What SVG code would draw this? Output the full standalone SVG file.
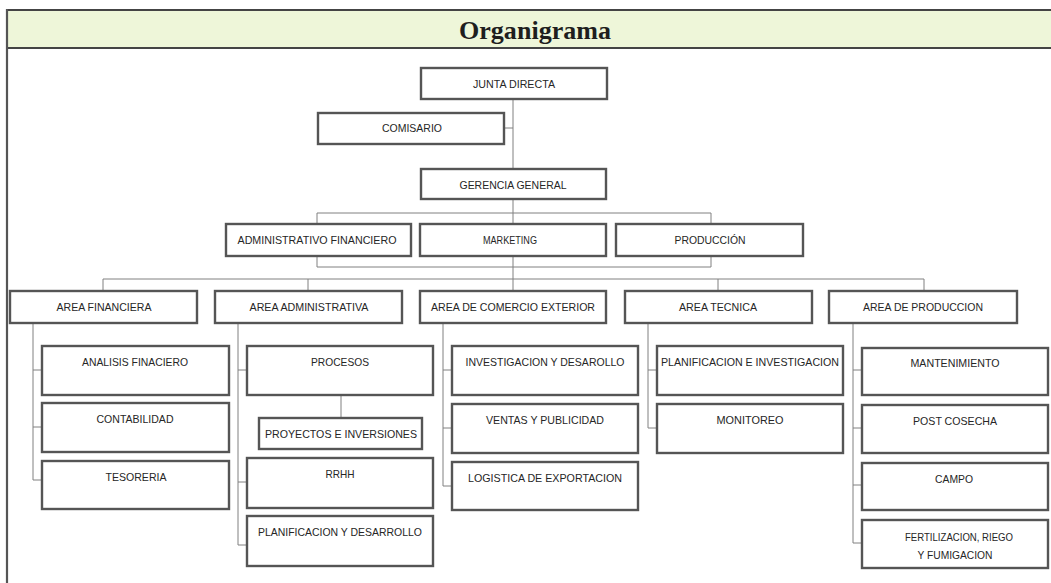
<svg xmlns="http://www.w3.org/2000/svg" width="1051" height="583" viewBox="0 0 1051 583">
<style>
.box{fill:#fff;stroke:#555;stroke-width:2.4}
.t{font-family:"Liberation Sans",Arial,sans-serif;font-size:11.5px;fill:#262626;text-anchor:middle}
.c{fill:none;stroke:#808080;stroke-width:1}
</style>
<rect x="0" y="0" width="1051" height="583" fill="#fff"/>
<g id="frame">
<rect x="7" y="10" width="1050" height="38" fill="#eef6d9"/>
<line x1="7" y1="10" x2="1051" y2="10" stroke="#444" stroke-width="2.2"/>
<line x1="7" y1="48" x2="1051" y2="48" stroke="#444" stroke-width="2.2"/>
<line x1="7" y1="9" x2="7" y2="583" stroke="#555" stroke-width="2.2"/>
<text x="535" y="39" font-family="'Liberation Serif',serif" font-weight="bold" font-size="26" fill="#1e1e1e" text-anchor="middle" textLength="152" lengthAdjust="spacingAndGlyphs">Organigrama</text>
</g>
<g id="connectors">
<path class="c" d="M513 99V169M504 128H513M513 199V267M317 224V213H711V224M317 256V267H711V256M513 267V291M103 291V279H924V291M308 279V291M718 279V291"/>
<path class="c" d="M33 323V480H42M33 370H42M33 427H42"/>
<path class="c" d="M238 323V545H247M238 370H247M238 482H247M341 395V418"/>
<path class="c" d="M443 323V486H452M443 370H452M443 428H452"/>
<path class="c" d="M648 323V428H657M648 370H657"/>
<path class="c" d="M853 323V543H862M853 370H862M853 428H862M853 485H862"/>
</g>
<g id="junta"><rect class="box" x="421" y="68" width="186" height="31"/><text class="t" x="514" y="88" textLength="82" lengthAdjust="spacingAndGlyphs">JUNTA DIRECTA</text></g>
<g id="comisario"><rect class="box" x="318" y="113" width="186" height="31"/><text class="t" x="412" y="132" textLength="60" lengthAdjust="spacingAndGlyphs">COMISARIO</text></g>
<g id="gerencia"><rect class="box" x="421" y="169" width="185" height="30"/><text class="t" x="513" y="189" textLength="107" lengthAdjust="spacingAndGlyphs">GERENCIA GENERAL</text></g>
<g id="adm-fin"><rect class="box" x="226" y="224" width="185" height="32"/><text class="t" x="317" y="244" textLength="159" lengthAdjust="spacingAndGlyphs">ADMINISTRATIVO FINANCIERO</text></g>
<g id="marketing"><rect class="box" x="420" y="224" width="186" height="32"/><text class="t" x="510" y="244" textLength="54" lengthAdjust="spacingAndGlyphs">MARKETING</text></g>
<g id="produccion"><rect class="box" x="616" y="224" width="187" height="32"/><text class="t" x="710" y="244" textLength="71" lengthAdjust="spacingAndGlyphs">PRODUCCIÓN</text></g>
<g id="area-fin"><rect class="box" x="10" y="291" width="187" height="32"/><text class="t" x="104" y="311" textLength="95" lengthAdjust="spacingAndGlyphs">AREA FINANCIERA</text></g>
<g id="area-adm"><rect class="box" x="215" y="291" width="187" height="32"/><text class="t" x="309" y="311" textLength="119" lengthAdjust="spacingAndGlyphs">AREA ADMINISTRATIVA</text></g>
<g id="area-com"><rect class="box" x="420" y="291" width="186" height="32"/><text class="t" x="513" y="311" textLength="164" lengthAdjust="spacingAndGlyphs">AREA DE COMERCIO EXTERIOR</text></g>
<g id="area-tec"><rect class="box" x="625" y="291" width="187" height="32"/><text class="t" x="718" y="311" textLength="78" lengthAdjust="spacingAndGlyphs">AREA TECNICA</text></g>
<g id="area-prod"><rect class="box" x="829" y="291" width="188" height="32"/><text class="t" x="923" y="311" textLength="120" lengthAdjust="spacingAndGlyphs">AREA DE PRODUCCION</text></g>
<g id="analisis"><rect class="box" x="42" y="346" width="187" height="49"/><text class="t" x="135" y="366" textLength="106" lengthAdjust="spacingAndGlyphs">ANALISIS FINACIERO</text></g>
<g id="contabilidad"><rect class="box" x="42" y="403" width="187" height="49"/><text class="t" x="135" y="423" textLength="77" lengthAdjust="spacingAndGlyphs">CONTABILIDAD</text></g>
<g id="tesoreria"><rect class="box" x="42" y="461" width="187" height="48"/><text class="t" x="136" y="481" textLength="61" lengthAdjust="spacingAndGlyphs">TESORERIA</text></g>
<g id="procesos"><rect class="box" x="247" y="346" width="186" height="49"/><text class="t" x="340" y="366" textLength="58" lengthAdjust="spacingAndGlyphs">PROCESOS</text></g>
<g id="proyectos"><rect class="box" x="259" y="418" width="163" height="31"/><text class="t" x="341" y="438" textLength="152" lengthAdjust="spacingAndGlyphs">PROYECTOS E INVERSIONES</text></g>
<g id="rrhh"><rect class="box" x="247" y="458" width="186" height="50"/><text class="t" x="340" y="478" textLength="29" lengthAdjust="spacingAndGlyphs">RRHH</text></g>
<g id="planif-des"><rect class="box" x="247" y="516" width="186" height="50"/><text class="t" x="340" y="536" textLength="164" lengthAdjust="spacingAndGlyphs">PLANIFICACION Y DESARROLLO</text></g>
<g id="investigacion"><rect class="box" x="452" y="346" width="186" height="49"/><text class="t" x="545" y="366" textLength="159" lengthAdjust="spacingAndGlyphs">INVESTIGACION Y DESAROLLO</text></g>
<g id="ventas"><rect class="box" x="452" y="404" width="186" height="49"/><text class="t" x="545" y="424" textLength="118" lengthAdjust="spacingAndGlyphs">VENTAS Y PUBLICIDAD</text></g>
<g id="logistica"><rect class="box" x="452" y="462" width="186" height="48"/><text class="t" x="545" y="482" textLength="154" lengthAdjust="spacingAndGlyphs">LOGISTICA DE EXPORTACION</text></g>
<g id="planif-inv"><rect class="box" x="657" y="346" width="186" height="49"/><text class="t" x="750" y="366" textLength="178" lengthAdjust="spacingAndGlyphs">PLANIFICACION E INVESTIGACION</text></g>
<g id="monitoreo"><rect class="box" x="657" y="404" width="186" height="49"/><text class="t" x="750" y="424" textLength="67" lengthAdjust="spacingAndGlyphs">MONITOREO</text></g>
<g id="mantenimiento"><rect class="box" x="862" y="348" width="186" height="47"/><text class="t" x="955" y="367" textLength="89" lengthAdjust="spacingAndGlyphs">MANTENIMIENTO</text></g>
<g id="postcosecha"><rect class="box" x="862" y="405" width="186" height="48"/><text class="t" x="955" y="425" textLength="84" lengthAdjust="spacingAndGlyphs">POST COSECHA</text></g>
<g id="campo"><rect class="box" x="862" y="463" width="186" height="47"/><text class="t" x="954" y="483" textLength="38" lengthAdjust="spacingAndGlyphs">CAMPO</text></g>
<g id="fertilizacion"><rect class="box" x="862" y="520" width="186" height="48"/><text class="t" x="959" y="541" textLength="108" lengthAdjust="spacingAndGlyphs">FERTILIZACION, RIEGO</text><text class="t" x="955" y="559" textLength="75" lengthAdjust="spacingAndGlyphs">Y FUMIGACION</text></g>
</svg>
